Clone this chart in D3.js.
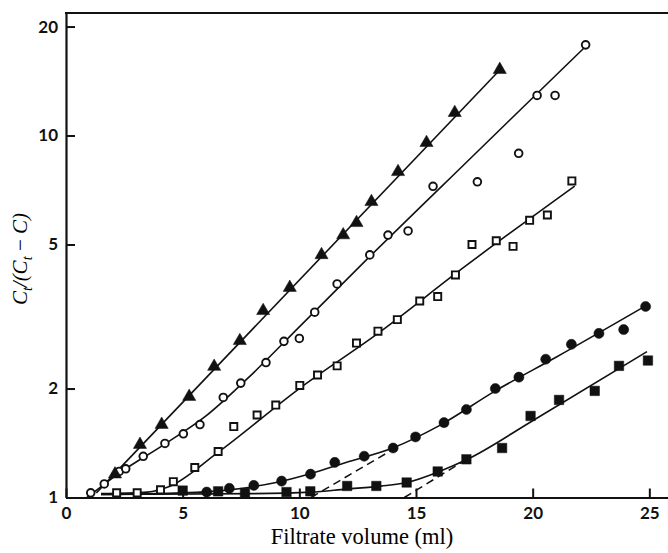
<!DOCTYPE html>
<html>
<head>
<meta charset="utf-8">
<script src="https://cdn.jsdelivr.net/npm/d3@7"></script>
<style>
  body { margin: 0; background: #fff; }
  .tick text { font-family: Lato, "DejaVu Sans", sans-serif; font-weight: 700; font-size: 17px; fill: #111; }
</style>
</head>
<body>
<div class="chart"></div>
<script>
// readings: [filtrate volume (ml), Ct/(Ct - C)]
const triangles = [[2.1,1.16],[3.17,1.40],[4.1,1.59],[5.28,1.90],[6.35,2.30],[7.45,2.71],[8.45,3.28],[9.59,3.80],[10.95,4.68],[11.88,5.31],[12.45,5.74],[13.09,6.56],[14.23,7.94],[15.45,9.55],[16.66,11.56],[18.59,15.2]];
const openCircles = [[1.06,1.03],[1.64,1.09],[2.28,1.18],[2.56,1.20],[3.31,1.30],[4.24,1.41],[5.03,1.50],[5.74,1.59],[6.74,1.89],[7.49,2.07],[8.57,2.36],[9.34,2.70],[10.0,2.75],[10.66,3.25],[11.62,3.89],[13.02,4.68],[13.8,5.31],[14.66,5.45],[15.73,7.24],[17.63,7.45],[19.4,8.93],[20.19,12.9],[20.96,12.9],[22.27,17.8]];
const openSquares = [[2.17,1.03],[3.05,1.03],[4.05,1.05],[4.6,1.106],[5.52,1.21],[6.52,1.34],[7.19,1.57],[8.19,1.69],[8.99,1.80],[10.02,2.04],[10.78,2.18],[11.62,2.31],[12.45,2.67],[13.37,2.88],[14.2,3.10],[15.16,3.49],[15.93,3.59],[16.69,4.12],[17.4,5.0],[18.44,5.12],[19.16,4.94],[19.87,5.83],[20.63,6.03],[21.68,7.49]];
const filledCircles = [[6.03,1.035],[7.0,1.06],[8.05,1.08],[9.24,1.11],[10.48,1.16],[11.52,1.25],[12.78,1.30],[14.02,1.37],[14.98,1.47],[16.2,1.61],[17.16,1.75],[18.4,2.0],[19.41,2.15],[20.56,2.41],[21.66,2.65],[22.84,2.84],[23.9,2.91],[24.84,3.37]];
const filledSquares = [[5.0,1.045],[6.52,1.04],[7.67,1.03],[9.45,1.035],[10.47,1.04],[12.05,1.076],[13.3,1.076],[14.6,1.10],[15.93,1.18],[17.16,1.275],[18.69,1.37],[19.91,1.68],[21.13,1.86],[22.66,1.97],[23.7,2.31],[24.94,2.39]];

// fitted curves drawn through the points
const triangleFit = [[1.3,1.03],[18.6,15.2]];
const openCircleFit = [[0.9,1.0],[2.3,1.17],[4.2,1.40],[6.0,1.68],[8,2.2],[10,2.96],[13,4.62],[16,7.13],[19,11.0],[22.3,17.7]];
const openSquareFit = [[1.5,1.025],[3.5,1.035],[4.4,1.07],[6.5,1.33],[10,2.0],[13.4,2.85],[17,4.3],[21.8,7.25]];
const filledCircleFit = [[1.5,1.02],[5,1.03],[7,1.05],[9,1.10],[10.5,1.165],[12,1.25],[14,1.37],[16,1.58],[18.4,1.97],[21,2.44],[24.9,3.4]];
const filledSquareFit = [[1.5,1.02],[8,1.025],[10.5,1.035],[12,1.055],[13.5,1.075],[14.6,1.10],[16,1.18],[17.2,1.275],[20,1.63],[24.9,2.53]];
const filledCircleDash = [[10.5,1.0],[14.2,1.38]];
const filledSquareDash = [[14.5,1.0],[17,1.255]];

const xTicks = [0, 5, 10, 15, 20, 25];
const yTicks = [1, 2, 5, 10, 20];

const width = 668;
const height = 553;
const plotLeft = 66;
const plotTop = 13;
const plotBottom = 497.5;

const svg = d3
  .select(".chart")
  .append("svg")
  .attr("width", width)
  .attr("height", height);

const x = d3.scaleLinear().domain([0, 25.8]).range([plotLeft, width]);
const y = d3.scaleLog().domain([1, 21.8]).range([plotBottom, plotTop]);

const line = d3
  .line()
  .x((d) => x(d[0]))
  .y((d) => y(d[1]))
  .curve(d3.curveMonotoneX);

function drawAxes() {
  const xAxis = svg
    .append("g")
    .attr("transform", `translate(0,${plotBottom})`)
    .call(
      d3.axisBottom(x).tickValues(xTicks).tickFormat(d3.format("d"))
        .tickSizeInner(-9).tickSizeOuter(0).tickPadding(9)
    );

  const yAxis = svg
    .append("g")
    .attr("transform", `translate(${plotLeft},0)`)
    .call(
      d3.axisLeft(y).tickValues(yTicks).tickFormat(d3.format("d"))
        .tickSizeInner(-9).tickSizeOuter(0).tickPadding(8)
    );

  [xAxis, yAxis].forEach((g) => {
    g.select(".domain").attr("stroke", "#111").attr("stroke-width", 2.2);
    g.selectAll(".tick line").attr("stroke", "#111").attr("stroke-width", 2);
  });

  // top frame line
  svg
    .append("line")
    .attr("x1", plotLeft - 1)
    .attr("x2", width)
    .attr("y1", plotTop)
    .attr("y2", plotTop)
    .attr("stroke", "#111")
    .attr("stroke-width", 2.2);

  svg
    .append("text")
    .attr("x", 362)
    .attr("y", 544)
    .attr("text-anchor", "middle")
    .attr("font-family", "'Liberation Serif', 'DejaVu Serif', serif")
    .attr("font-size", 22.5)
    .attr("fill", "#000")
    .text("Filtrate volume (ml)");

  const yLabel = svg
    .append("text")
    .attr("transform", "translate(27,259) rotate(-90)")
    .attr("text-anchor", "middle")
    .attr("font-family", "'Liberation Serif', 'DejaVu Serif', serif")
    .attr("font-style", "italic")
    .attr("font-size", 21)
    .attr("fill", "#000");
  yLabel.append("tspan").attr("fill", "#000").text("C");
  yLabel.append("tspan").attr("fill", "#000").attr("font-size", 14).attr("dy", 5).text("t");
  yLabel.append("tspan").attr("fill", "#000").attr("dy", -5).text("/(C");
  yLabel.append("tspan").attr("fill", "#000").attr("font-size", 14).attr("dy", 5).text("t");
  yLabel.append("tspan").attr("fill", "#000").attr("dy", -5).text("\u2009\u2212\u2009C)");
}

function drawLines() {
  [triangleFit, openCircleFit, openSquareFit, filledCircleFit, filledSquareFit].forEach((d) => {
    svg
      .append("path")
      .datum(d)
      .attr("d", line)
      .attr("fill", "none")
      .attr("stroke", "#111")
      .attr("stroke-width", 1.6);
  });

  [filledCircleDash, filledSquareDash].forEach((d) => {
    svg
      .append("path")
      .datum(d)
      .attr("d", line)
      .attr("fill", "none")
      .attr("stroke", "#111")
      .attr("stroke-width", 1.5)
      .attr("stroke-dasharray", "8,5");
  });
}

function drawPoints(data, symbol, size, filled) {
  svg
    .append("g")
    .selectAll("path")
    .data(data)
    .enter()
    .append("path")
    .attr("transform", (d) => `translate(${x(d[0])},${y(d[1])})`)
    .attr("d", d3.symbol().type(symbol).size(size))
    .attr("fill", filled ? "#111" : "#fff")
    .attr("stroke", "#111")
    .attr("stroke-width", filled ? 0.5 : 1.9);
}

drawAxes();
drawLines();
drawPoints(openCircles, d3.symbolCircle, 46, false);
drawPoints(openSquares, d3.symbolSquare, 50, false);
drawPoints(filledSquares, d3.symbolSquare, 90, true);
drawPoints(filledCircles, d3.symbolCircle, 80, true);
drawPoints(triangles, d3.symbolTriangle, 75, true);
</script>
</body>
</html>
